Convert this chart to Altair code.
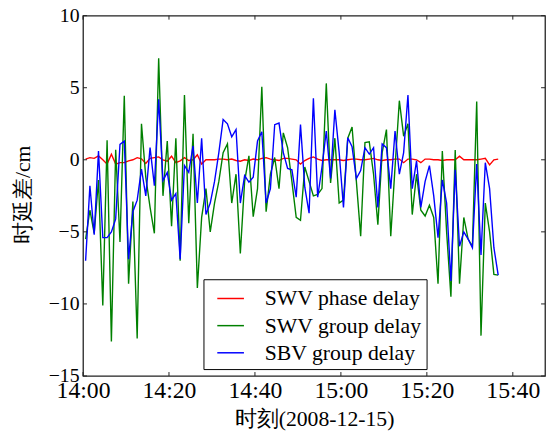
import altair as alt
import pandas as pd

# ---------------- data ----------------
start_time = "2008-12-15 14:00:36"   # first sample, then one sample per minute

swv_phase = [0.05, 0.15, 0.1, 0.27, 0.0, -0.3, 0.39, -0.3, -0.2, -0.2,
             -0.07, 0.0, 0.15, 0.07, -0.25, 0.1, 0.15, 0.2, 0.0, -0.1,
             0.25, -0.2, -0.07, 0.15, -0.05, 0.0, 0.35, -0.3, 0.0, 0.0,
             0.0, 0.05, 0.05, 0.0, 0.05, -0.05, -0.1, 0.0, -0.05, 0.05,
             0.0, 0.1, 0.15, 0.05, 0.0, -0.05, 0.1, 0.1, 0.05, 0.0,
             -0.3, -0.05, 0.1, 0.2, 0.05, -0.05, 0.0, 0.0, 0.0, 0.0,
             -0.05, 0.0, 0.05, 0.05, 0.0, 0.0, 0.05, 0.1, 0.0, -0.05,
             0.0, 0.0, 0.05, 0.05, -0.2, 0.05, 0.05, 0.0, -0.2, 0.05,
             0.05, 0.0, 0.0, -0.05, 0.0, 0.0, 0.0, 0.25, 0.0, 0.0,
             0.0, 0.0, 0.05, 0.1, -0.35, 0.0, 0.05]

swv_group = [-5.5, -3.5, -5.1, -1.4, -10.1, 1.35, -12.6, 0.7, -5.7, 4.45,
             -8.6, -2.9, -12.4, 2.5, -1.2, -3.3, -5.1, 7.05, -2.5, 1.3,
             -4.6, 1.5, -7.0, 4.5, -4.4, 1.8, -8.9, -4.0, -2.0, -5.0,
             -3.0, -1.5, 0.5, 1.1, -3.0, -1.0, -6.5, -1.5, 0.27, -3.95,
             -2.0, 5.07, -3.6, -1.0, 0.16, -2.0, 1.87, 0.84, -1.5, -4.0,
             -4.2, -0.5, -1.5, -2.5, -2.4, -2.0, 5.3, -1.6, 1.5, -3.0,
             -2.8, 1.5, 2.28, -1.5, -5.3, 1.2, 1.25, -1.0, -4.5, 0.5,
             2.1, -5.3, -0.5, 4.1, 1.64, 2.5, -3.8, -1.0, -3.5, -3.9,
             -3.15, -4.0, -8.6, 0.6, -5.0, -9.5, 0.68, -8.6, -4.0, -5.5,
             -6.0, 4.04, -12.2, -3.0, -5.0, -7.95, -8.0]

sbv_group = [-7.0, -1.8, -5.2, 0.6, -5.4, -5.4, -5.0, -4.1, 1.07, 1.3,
             -6.9, -3.6, -2.8, -0.64, -2.5, 0.84, -1.8, 4.2, -1.44, -0.87,
             -2.8, -2.35, -6.9, -0.4, -0.87, 0.96, -3.0, 1.5, -3.8, -3.0,
             -1.5, 0.5, 2.8, 2.5, 1.6, 2.1, -3.0, -1.1, -1.55, -1.2,
             1.3, 1.94, -3.0, -2.0, 2.44, 2.55, 0.5, -0.6, -0.7, -2.6,
             2.44, -1.9, -3.7, 4.27, -2.6, -0.5, 2.0, -1.3, 3.47, 0.5,
             -3.3, 1.53, 0.9, -1.3, -0.75, 0.84, 0.4, 0.84, -3.3, 1.1,
             0.84, -2.0, 2.0, -1.0, 0.5, 4.5, -2.0, -0.07, -3.3, -1.5,
             -0.4, -2.5, -5.4, -1.4, -3.0, -8.4, -0.7, -6.0, -5.0, -5.5,
             -6.1, -0.3, -6.6, -0.2, -2.0, -6.1, -8.0]

series_names = ["SWV phase delay", "SWV group delay", "SBV group delay"]
series_colors = ["#ff0000", "#008000", "#0000ff"]

x_tick_labels = ["14:00", "14:20", "14:40", "15:00", "15:20", "15:40"]
y_tick_values = [-15, -10, -5, 0, 5, 10]

# ---------------- tables ----------------
times = pd.date_range(start_time, periods=len(swv_phase), freq="1min").strftime("%Y-%m-%dT%H:%M:%S").tolist()
rows = []
for name, vals in zip(series_names, [swv_phase, swv_group, sbv_group]):
    for t, v in zip(times, vals):
        rows.append({"time": t, "value": v, "series": name})
df = pd.DataFrame(rows)

tick_dt = [alt.DateTime(year=2008, month=12, date=15, hours=int(s[:2]), minutes=int(s[3:])) for s in x_tick_labels]
xt_df = pd.DataFrame({"time": ["2008-12-15T" + s + ":00" for s in x_tick_labels]})
yt_df = pd.DataFrame({"value": y_tick_values})

W, H = 468, 365
SERIF = "Liberation Serif"

x_scale = alt.Scale(domain=[alt.DateTime(year=2008, month=12, date=15, hours=14, minutes=0),
                            alt.DateTime(year=2008, month=12, date=15, hours=15, minutes=47, seconds=30)],
                    nice=False)
y_scale = alt.Scale(domain=[-15, 10], nice=False, zero=False)
color_scale = alt.Scale(domain=series_names, range=series_colors)

x_axis = alt.Axis(values=tick_dt, format="%H:%M", labelFont=SERIF, labelFontSize=24,
                  labelColor="black", labelPadding=3, labelFlush=False, labelOverlap=False,
                  labelBound=False, ticks=False, tickSize=0, domain=False, grid=False,
                  title="时刻(2008-12-15)", titleFont=SERIF, titleFontSize=22,
                  titleFontWeight="normal", titleColor="black", titleBaseline="middle",
                  titleX=W / 2, titleY=43)
y_axis = alt.Axis(values=y_tick_values, labelFont=SERIF, labelFontSize=20, labelColor="black",
                  labelPadding=4, labelFlush=False, labelOverlap=False, labelBound=False,
                  ticks=False, tickSize=0, domain=False, grid=False,
                  title="时延差/cm", titleFont=SERIF, titleFontSize=22, titleFontWeight="normal",
                  titleColor="black", titleBaseline="middle", titleAngle=270,
                  titleX=-61, titleY=181)

legend = alt.Legend(title=None, orient="none", legendX=122, legendY=267,
                    fillColor="white", strokeColor="black", padding=5, cornerRadius=0,
                    symbolType="stroke", symbolSize=729, symbolStrokeWidth=1.5, symbolOffset=8,
                    labelFont=SERIF, labelFontSize=22, labelColor="black",
                    labelOffset=20, rowPadding=1.5)

X = alt.X("time:T", scale=x_scale, axis=x_axis)
Y = alt.Y("value:Q", scale=y_scale, axis=y_axis)

layers = []
for name in series_names:
    layers.append(
        alt.Chart(df).transform_filter(alt.datum.series == name)
        .mark_line(strokeWidth=1.4)
        .encode(x=X, y=Y,
                color=alt.Color("series:N", scale=color_scale, legend=legend, sort=series_names))
    )

tick_style = dict(color="#222222", strokeWidth=1)
bottom_ticks = alt.Chart(xt_df).mark_rule(**tick_style).encode(
    x=X, y=alt.value(H), y2=alt.value(H - 4))
top_ticks = alt.Chart(xt_df).mark_rule(**tick_style).encode(
    x=X, y=alt.value(0), y2=alt.value(4))
left_ticks = alt.Chart(yt_df).mark_rule(**tick_style).encode(
    y=Y, x=alt.value(0), x2=alt.value(4))
right_ticks = alt.Chart(yt_df).mark_rule(**tick_style).encode(
    y=Y, x=alt.value(W - 4), x2=alt.value(W))

chart = alt.layer(*layers, bottom_ticks, top_ticks, left_ticks, right_ticks).properties(
    width=W, height=H,
    autosize=alt.AutoSizeParams(type="none"),
    padding={"left": 76, "top": 5, "right": 3, "bottom": 56},
    background="white",
).configure_view(stroke="#222222", strokeWidth=1.3)

chart.save("out.html", embed_options={"renderer": "svg", "actions": False})
